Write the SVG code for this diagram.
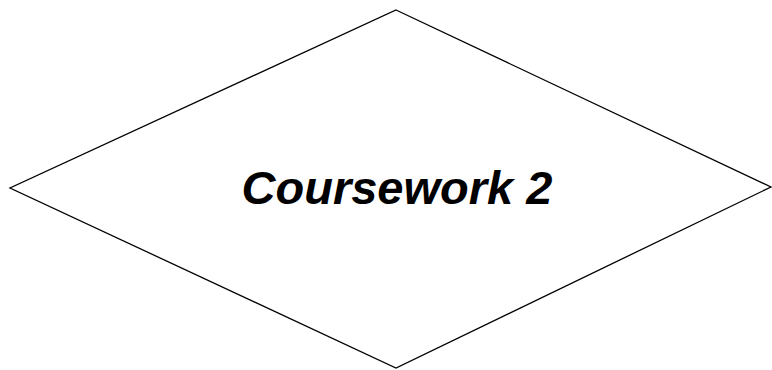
<svg xmlns="http://www.w3.org/2000/svg" width="772" height="370" viewBox="0 0 772 370">
<style>
.shape{fill:#fff;stroke:#000;stroke-width:1.3}
.label{font-family:"Liberation Sans",Arial,sans-serif;font-weight:bold;font-style:italic;font-size:47px;fill:#000;text-anchor:middle}
</style>
<rect width="772" height="370" fill="#fff"/>
<g id="connectors"></g>
<g id="node-coursework2">
<polygon class="shape" points="396,10 771,187 396,368 10,188"/>
<text class="label" x="397" y="204">Coursework 2</text>
</g>
</svg>
